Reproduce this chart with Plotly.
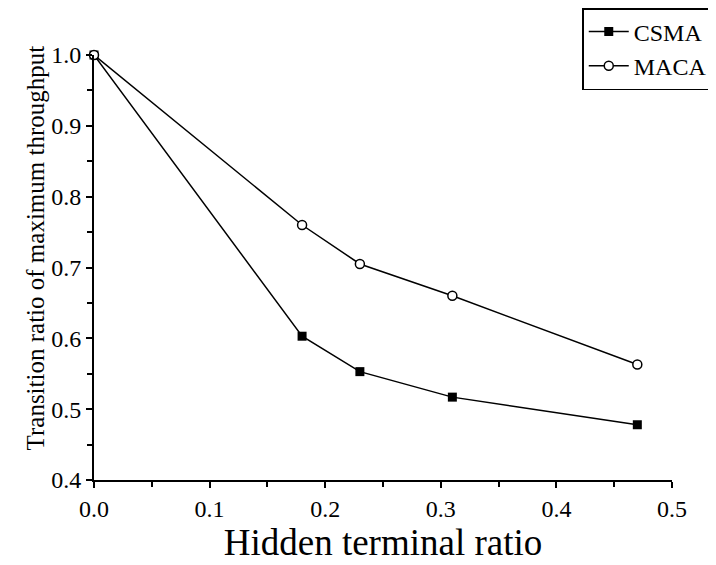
import plotly.graph_objects as go

hidden_ratio = [0.0, 0.18, 0.23, 0.31, 0.47]
csma = [1.0, 0.603, 0.553, 0.517, 0.478]
maca = [1.0, 0.760, 0.705, 0.660, 0.563]

font_family = "Liberation Serif, Times New Roman, serif"

fig = go.Figure()
fig.add_trace(go.Scatter(
    x=hidden_ratio, y=csma, name="CSMA", mode="lines+markers",
    line=dict(color="black", width=1.5),
    marker=dict(symbol="square", size=9, color="black"),
    cliponaxis=False,
))
fig.add_trace(go.Scatter(
    x=hidden_ratio, y=maca, name="MACA", mode="lines+markers",
    line=dict(color="black", width=1.5),
    marker=dict(symbol="circle", size=9, color="white", line=dict(color="black", width=1.5)),
    cliponaxis=False,
))

fig.add_annotation(
    text="Transition ratio of maximum throughput",
    xref="paper", yref="paper", x=-0.102, y=0.545,
    xanchor="center", yanchor="middle", textangle=-90, showarrow=False,
    font=dict(size=25, family=font_family, color="black"),
)

fig.update_layout(
    width=716, height=565,
    margin=dict(l=86, r=52, t=47, b=93, autoexpand=False),
    paper_bgcolor="white", plot_bgcolor="white",
    font=dict(family=font_family, color="black", size=24),
    showlegend=True,
    legend=dict(
        xref="container", yref="container",
        x=0.985, y=1.0, xanchor="right", yanchor="top",
        bordercolor="black", borderwidth=1.5, bgcolor="white",
        font=dict(size=24, family=font_family),
        itemwidth=40, tracegroupgap=0,
    ),
    xaxis=dict(
        range=[0, 0.5], tick0=0, dtick=0.1, tickformat=".1f",
        showline=True, linecolor="black", linewidth=2,
        ticks="outside", ticklen=6, tickwidth=1.5, tickcolor="black",
        minor=dict(dtick=0.05, ticks="outside", ticklen=5, tickwidth=1.5, tickcolor="black"),
        showgrid=False, zeroline=False, automargin=False,
        tickfont=dict(size=24),
        title=dict(text="Hidden terminal ratio", font=dict(size=37), standoff=6),
    ),
    yaxis=dict(
        range=[0.4, 1.0], tick0=0.4, dtick=0.1, tickformat=".1f",
        showline=True, linecolor="black", linewidth=2,
        ticks="outside", ticklen=6, tickwidth=1.5, tickcolor="black",
        minor=dict(dtick=0.05, ticks="outside", ticklen=5, tickwidth=1.5, tickcolor="black"),
        showgrid=False, zeroline=False, automargin=False,
        tickfont=dict(size=24),
    ),
)

fig.write_html("out.html")
